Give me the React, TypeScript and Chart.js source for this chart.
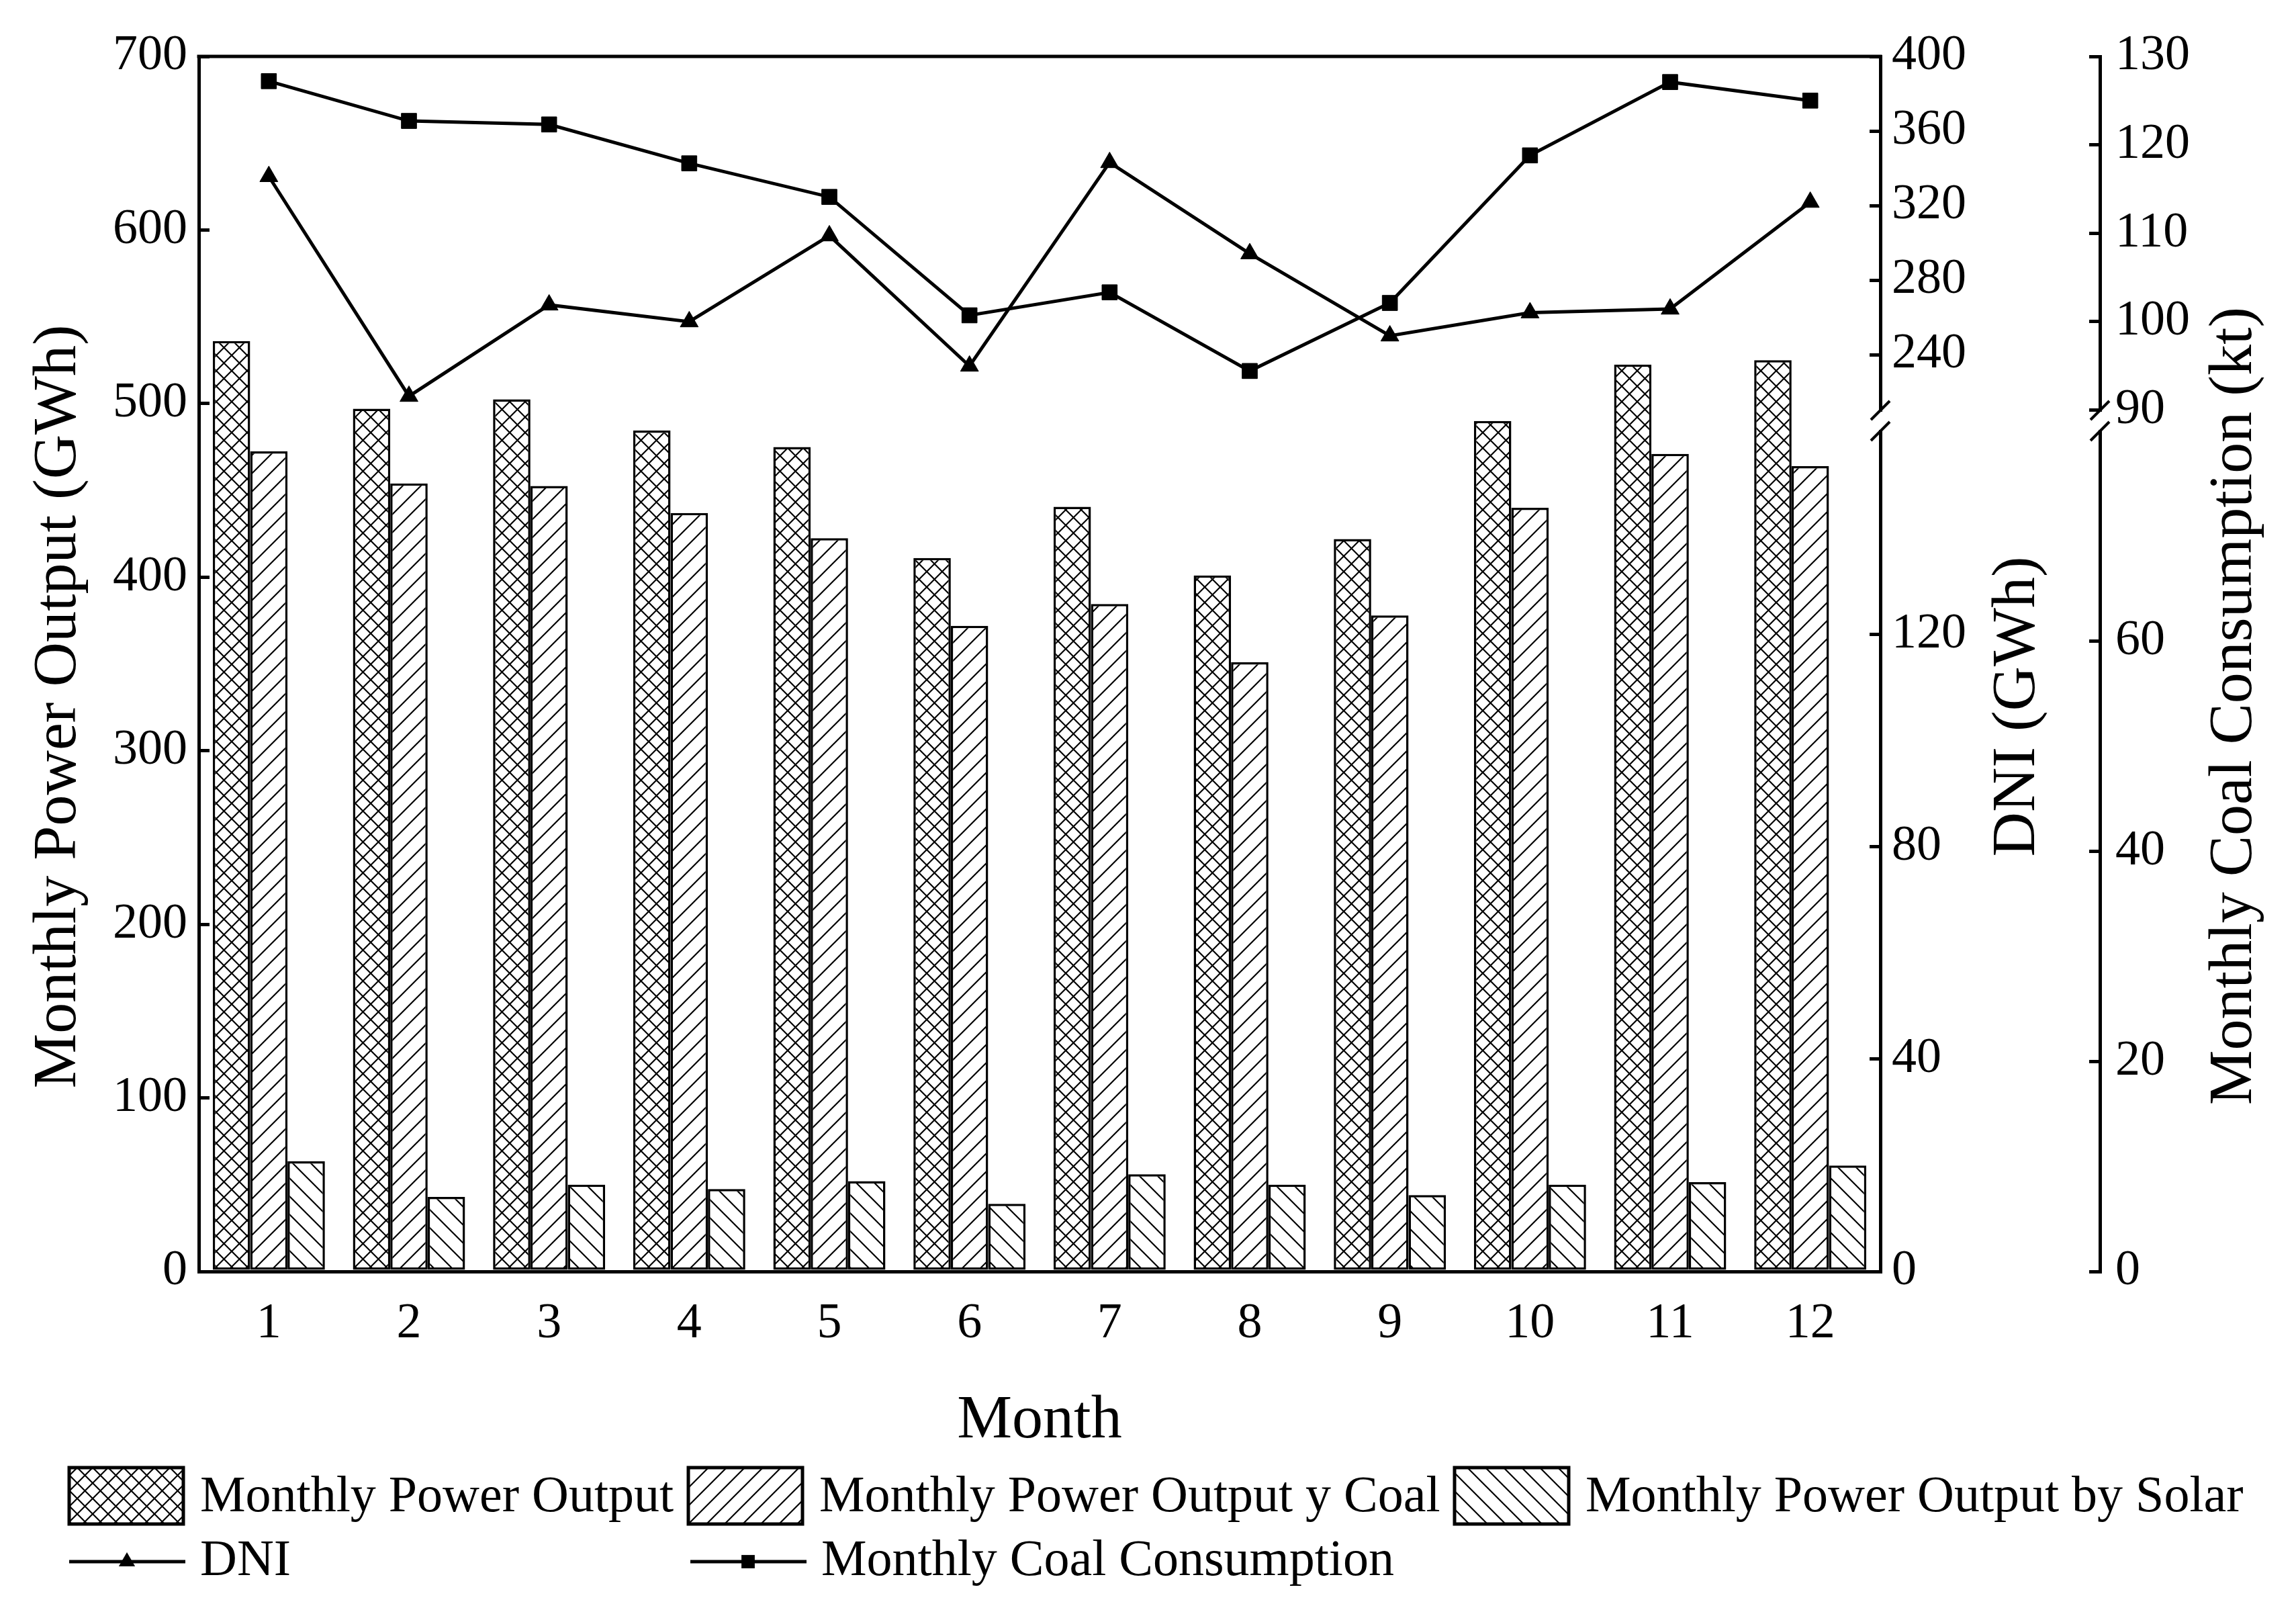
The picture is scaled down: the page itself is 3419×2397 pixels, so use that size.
import { useEffect, useRef } from 'react';
import { Chart, registerables } from 'chart.js';

Chart.register(...registerables);

const FONT = '"Liberation Serif", "Times New Roman", serif';

// values
const months = ['1', '2', '3', '4', '5', '6', '7', '8', '9', '10', '11', '12'];
const powerOutput = [536, 497, 502.5, 484.5, 475, 411, 440.5, 401, 422, 490, 522.5, 525];
const coalOutput = [472.5, 454, 452.5, 437, 422.5, 372, 384.5, 351, 378, 440, 471, 464];
const solarOutput = [63.5, 43, 50, 47.5, 52, 39, 56, 50, 44, 50, 51.5, 61];
const dni = [335.6, 217.7, 266.7, 257.7, 303.8, 233.9, 343.1, 294.2, 250.1, 262.5, 264.5, 321.8];
const coalConsumption = [127.2, 122.7, 122.3, 117.9, 114.1, 100.7, 103.3, 94.4, 102.1, 118.8, 127.1, 125.0];

const barLabels = ['Monthly Power Output', 'Monthly Power Output y Coal', 'Monthly Power Output by Solar'];
const lineLabels = ['DNI', 'Monthly Coal Consumption'];

// tick values of each axis (right axes are broken into an upper and a lower part)
const powerTicks = [0, 100, 200, 300, 400, 500, 600, 700];
const dniUpperTicks = [240, 280, 320, 360, 400];
const dniLowerTicks = [0, 40, 80, 120];
const coalUpperTicks = [90, 100, 110, 120, 130];
const coalLowerTicks = [0, 20, 40, 60];

// share of the plot height for the upper / lower part of the broken axes
const UPPER_H = 542;
const LOWER_H = 1267;

function makePattern(kind: 'cross' | 'fwd' | 'back') {
  const s = kind === 'cross' ? 23 : 27;
  const c = document.createElement('canvas');
  c.width = s;
  c.height = s;
  const g = c.getContext('2d')!;
  g.fillStyle = '#fff';
  g.fillRect(0, 0, s, s);
  g.strokeStyle = '#000';
  g.lineWidth = 2.2;
  g.beginPath();
  for (const off of [-s, 0, s]) {
    if (kind !== 'back') {
      g.moveTo(off - 1, s + 1);
      g.lineTo(off + s + 1, -1);
    }
    if (kind !== 'fwd') {
      g.moveTo(off - 1, -1);
      g.lineTo(off + s + 1, s + 1);
    }
  }
  g.stroke();
  return g.createPattern(c, 'repeat')!;
}

const tickFont = { family: FONT, size: 74, lineHeight: 1.2 };
const spine = { display: true, color: '#000', width: 5 };
const inwardTicks = { display: true, drawOnChartArea: false, drawTicks: true, tickLength: -16, tickWidth: 5, lineWidth: 5, tickColor: '#000', color: '#000' };
const useTicks = (values: number[]) => (s: any) => { s.ticks = values.map((value) => ({ value })); };

function drawMarker(ctx: CanvasRenderingContext2D, style: string, x: number, y: number, r: number) {
  ctx.beginPath();
  if (style === 'triangle') {
    ctx.moveTo(x, y - r);
    ctx.lineTo(x + r * Math.sin(Math.PI * 2 / 3), y + r / 2);
    ctx.lineTo(x - r * Math.sin(Math.PI * 2 / 3), y + r / 2);
    ctx.closePath();
  } else {
    const h = r * Math.SQRT1_2;
    ctx.rect(x - h, y - h, 2 * h, 2 * h);
  }
  ctx.fill();
}

const decorPlugin = {
  id: 'decor',
  afterDraw(chart: any) {
    const { ctx, chartArea, scales } = chart;
    ctx.save();
    ctx.fillStyle = '#000';
    ctx.strokeStyle = '#000';

    // top frame line
    ctx.lineWidth = 5;
    ctx.beginPath();
    ctx.moveTo(chartArea.left - 2.5, chartArea.top);
    ctx.lineTo(chartArea.right + 2.5, chartArea.top);
    ctx.stroke();

    // axis break marks
    const yb = scales.yDniTop.bottom;
    for (const x of [scales.yDniTop.left, scales.yCoalTop.left]) {
      ctx.fillStyle = '#fff';
      ctx.fillRect(x - 8, yb - 13, 16, 27);
      ctx.lineWidth = 4;
      for (const yc of [yb - 15, yb + 16]) {
        ctx.beginPath();
        ctx.moveTo(x - 14, yc + 14);
        ctx.lineTo(x + 14, yc - 14);
        ctx.stroke();
      }
    }

    // vertical axis titles
    ctx.fillStyle = '#000';
    ctx.font = `92px ${FONT}`;
    ctx.textAlign = 'center';
    ctx.textBaseline = 'alphabetic';
    const titles: [string, number, number][] = [
      ['Monthly Power Output (GWh)', 112, 1052],
      ['DNI (GWh)', 3029, 1052],
      ['Monthly Coal Consumption (kt)', 3352, 1051],
    ];
    for (const [t, x, y] of titles) {
      ctx.save();
      ctx.translate(x, y);
      ctx.rotate(-Math.PI / 2);
      ctx.fillText(t, 0, 0);
      ctx.restore();
    }

    // legend
    const ds = chart.data.datasets;
    ctx.font = `76px ${FONT}`;
    ctx.textAlign = 'left';
    const boxX = [103, 1025, 2166];
    [0, 1, 2].forEach((i) => {
      ctx.fillStyle = ds[i + 2].backgroundColor;
      ctx.fillRect(boxX[i], 2185, 170, 84);
      ctx.lineWidth = 5;
      ctx.strokeRect(boxX[i], 2185, 170, 84);
      ctx.fillStyle = '#000';
      ctx.fillText(ds[i + 2].label, boxX[i] + 195, 2250);
    });
    const lineX = [103, 1028];
    [0, 1].forEach((i) => {
      ctx.lineWidth = 5;
      ctx.beginPath();
      ctx.moveTo(lineX[i], 2325);
      ctx.lineTo(lineX[i] + 173, 2325);
      ctx.stroke();
      drawMarker(ctx, ds[i].pointStyle, lineX[i] + 86, 2325, 14);
      ctx.fillText(ds[i].label, lineX[i] + 195, 2345);
    });
    ctx.restore();
  },
};

export default function App() {
  const canvasRef = useRef<HTMLCanvasElement>(null);

  useEffect(() => {
    document.body.style.margin = '0';
    document.body.style.overflow = 'hidden';
    if (!canvasRef.current) return;

    const chart = new Chart(canvasRef.current, {
      type: 'bar',
      data: {
        labels: months,
        datasets: [
          {
            type: 'line', label: lineLabels[0], data: dni, yAxisID: 'yDniTop', order: 1,
            borderColor: '#000', borderWidth: 5, pointStyle: 'triangle', pointRadius: 15.5,
            pointBackgroundColor: '#000', pointBorderColor: '#000', pointBorderWidth: 1, tension: 0,
          },
          {
            type: 'line', label: lineLabels[1], data: coalConsumption, yAxisID: 'yCoalTop', order: 1,
            borderColor: '#000', borderWidth: 5, pointStyle: 'rect', pointRadius: 16,
            pointBackgroundColor: '#000', pointBorderColor: '#000', pointBorderWidth: 1, tension: 0,
          },
          {
            label: barLabels[0], data: powerOutput, yAxisID: 'y', order: 2,
            backgroundColor: makePattern('cross'), borderColor: '#000', borderWidth: 3.5, borderSkipped: false,
          },
          {
            label: barLabels[1], data: coalOutput, yAxisID: 'y', order: 2,
            backgroundColor: makePattern('fwd'), borderColor: '#000', borderWidth: 3.5, borderSkipped: false,
          },
          {
            label: barLabels[2], data: solarOutput, yAxisID: 'y', order: 2,
            backgroundColor: makePattern('back'), borderColor: '#000', borderWidth: 3.5, borderSkipped: false,
          },
        ] as any,
      },
      options: {
        animation: false,
        responsive: true,
        maintainAspectRatio: false,
        layout: { padding: { top: 84, bottom: 226, left: 0, right: 0 } },
        datasets: { bar: { categoryPercentage: 0.8, barPercentage: 1 } },
        plugins: { legend: { display: false }, tooltip: { enabled: false } },
        scales: {
          x: {
            type: 'category',
            grid: { display: false },
            border: spine,
            ticks: { font: tickFont, color: '#000', padding: 26, maxRotation: 0, autoSkip: false },
            title: { display: true, text: 'Month', color: '#000', font: { family: FONT, size: 92, lineHeight: 1.2 }, padding: 0 },
            afterFit: (s: any) => { s.height = 278; },
          },
          y: {
            position: 'left',
            min: 0,
            max: 700,
            grid: inwardTicks,
            border: spine,
            ticks: { autoSkip: false, font: tickFont, color: '#000', padding: 33 },
            afterBuildTicks: useTicks(powerTicks),
            afterFit: (s: any) => { s.width = 296; },
          },
          yDniTop: {
            position: 'right', stack: 'dni', stackWeight: UPPER_H,
            min: 204.7, max: 400,
            grid: inwardTicks, border: spine,
            ticks: { autoSkip: false, font: tickFont, color: '#000', padding: 33 },
            afterBuildTicks: useTicks(dniUpperTicks),
            afterFit: (s: any) => { s.width = 327; },
          },
          yDniBot: {
            position: 'right', stack: 'dni', stackWeight: LOWER_H,
            min: 0, max: 160.3,
            grid: inwardTicks, border: spine,
            ticks: { autoSkip: false, font: tickFont, color: '#000', padding: 33 },
            afterBuildTicks: useTicks(dniLowerTicks),
            afterFit: (s: any) => { s.width = 327; },
          },
          yCoalTop: {
            position: 'right', stack: 'coal', stackWeight: UPPER_H,
            min: 88.8, max: 130,
            grid: inwardTicks, border: spine,
            ticks: { autoSkip: false, font: tickFont, color: '#000', padding: 39 },
            afterBuildTicks: useTicks(coalUpperTicks),
            afterFit: (s: any) => { s.width = 292; },
          },
          yCoalBot: {
            position: 'right', stack: 'coal', stackWeight: LOWER_H,
            min: 0, max: 81,
            grid: inwardTicks, border: spine,
            ticks: { autoSkip: false, font: tickFont, color: '#000', padding: 39 },
            afterBuildTicks: useTicks(coalLowerTicks),
            afterFit: (s: any) => { s.width = 292; },
          },
        },
      } as any,
      plugins: [decorPlugin],
    });

    return () => { chart.destroy(); };
  }, []);

  return (
    <div style={{ position: 'relative', width: 3419, height: 2397, background: '#fff' }}>
      <canvas ref={canvasRef} />
    </div>
  );
}
